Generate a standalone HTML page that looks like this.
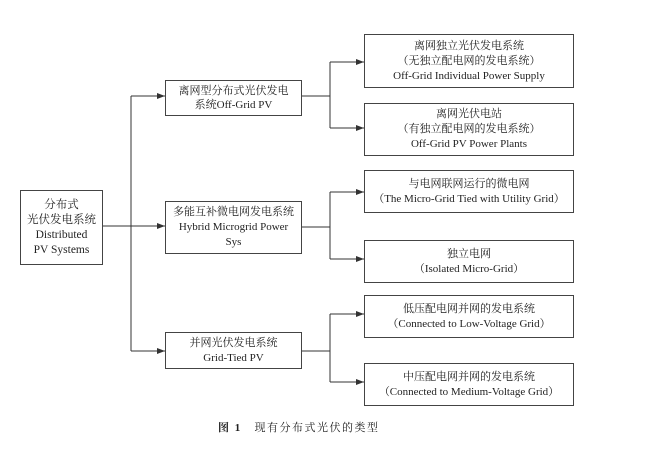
<!DOCTYPE html>
<html><head><meta charset="utf-8"><style>
body{margin:0;background:#fff;}
.w{position:relative;width:664px;height:456px;overflow:hidden;font-family:"Liberation Serif","Noto Serif CJK SC",serif;color:#222;}
.b{position:absolute;border:1px solid #444;box-sizing:border-box;display:flex;align-items:center;justify-content:center;text-align:center;font-size:11px;line-height:15px;white-space:nowrap;}
svg{position:absolute;left:0;top:0;}
</style></head><body><div class="w">
<svg width="664" height="456" stroke="#333" stroke-width="1" fill="none">
<defs><marker id="a" markerWidth="8" markerHeight="6" refX="8" refY="3" orient="auto" markerUnits="userSpaceOnUse"><path d="M0,0 L8,3 L0,6 z" fill="#333" stroke="none"/></marker></defs>
<path d="M103,226 H165" marker-end="url(#a)"/>
<path d="M131,96 V351"/>
<path d="M131,96 H165" marker-end="url(#a)"/>
<path d="M131,351 H165" marker-end="url(#a)"/>
<path d="M302,96 H330 M330,62 V128 M302,227 H330 M330,192 V259 M302,351 H330 M330,314 V382"/>
<path d="M330,62 H364" marker-end="url(#a)"/><path d="M330,128 H364" marker-end="url(#a)"/>
<path d="M330,192 H364" marker-end="url(#a)"/><path d="M330,259 H364" marker-end="url(#a)"/>
<path d="M330,314 H364" marker-end="url(#a)"/><path d="M330,382 H364" marker-end="url(#a)"/>
</svg>
<div class="b" style="left:20px;top:190px;width:83px;height:75px;font-size:11.5px">分布式<br>光伏发电系统<br>Distributed<br>PV Systems</div>
<div class="b" style="left:165px;top:80px;width:137px;height:36px;line-height:14px">离网型分布式光伏发电<br>系统Off-Grid PV</div>
<div class="b" style="left:165px;top:201px;width:137px;height:53px">多能互补微电网发电系统<br>Hybrid Microgrid Power<br>Sys</div>
<div class="b" style="left:165px;top:332px;width:137px;height:37px">并网光伏发电系统<br>Grid-Tied PV</div>
<div class="b" style="left:364px;top:34px;width:210px;height:54px">离网独立光伏发电系统<br>（无独立配电网的发电系统）<br>Off-Grid Individual Power Supply</div>
<div class="b" style="left:364px;top:103px;width:210px;height:53px">离网光伏电站<br>（有独立配电网的发电系统）<br>Off-Grid PV Power Plants</div>
<div class="b" style="left:364px;top:170px;width:210px;height:43px">与电网联网运行的微电网<br>（The Micro-Grid Tied with Utility Grid）</div>
<div class="b" style="left:364px;top:240px;width:210px;height:43px">独立电网<br>（Isolated Micro-Grid）</div>
<div class="b" style="left:364px;top:295px;width:210px;height:43px">低压配电网并网的发电系统<br>（Connected to Low-Voltage Grid）</div>
<div class="b" style="left:364px;top:363px;width:210px;height:43px">中压配电网并网的发电系统<br>（Connected to Medium-Voltage Grid）</div>
<div style="position:absolute;left:218px;top:419px;font-size:11px;white-space:nowrap;letter-spacing:1.5px"><b>图 1</b>&nbsp;&nbsp;&nbsp;现有分布式光伏的类型</div>
</div></body></html>
